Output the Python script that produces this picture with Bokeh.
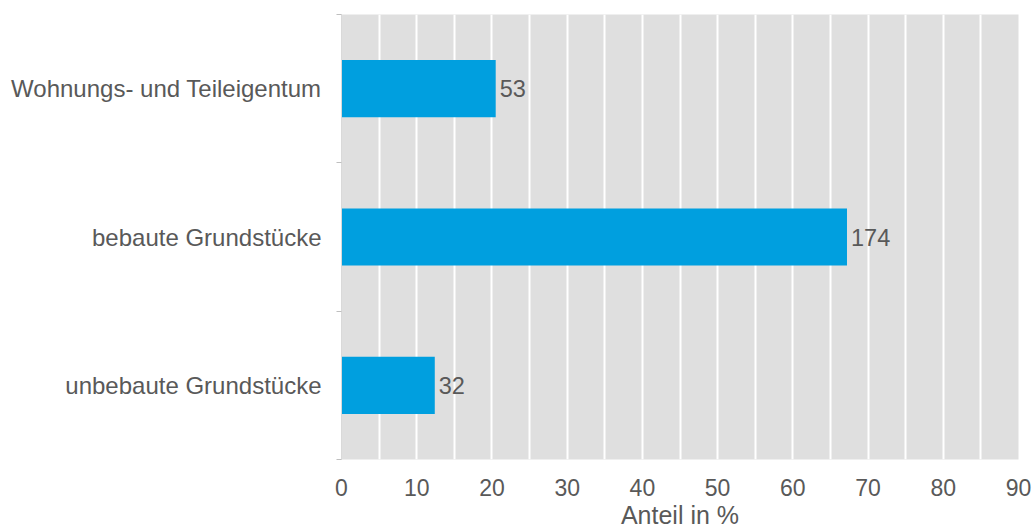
from bokeh.plotting import figure
from bokeh.models import ColumnDataSource, FixedTicker, SingleIntervalTicker, Range1d
from bokeh.embed import file_html
from bokeh.resources import INLINE

# --- data ---
categories = ["unbebaute Grundstücke", "bebaute Grundstücke", "Wohnungs- und Teileigentum"]
anzahl = [32, 174, 53]            # count labels shown next to bars
anteil = [12.4, 67.2, 20.5]       # bar length, share in %
x_ticks = [0, 10, 20, 30, 40, 50, 60, 70, 80, 90]

FONT = "Liberation Sans"
TXT = "#595959"
BAR = "#009FDF"

pos = [i + 0.5 for i in range(len(categories))]
src = ColumnDataSource(dict(y=pos, right=anteil, lab=[str(v) for v in anzahl]))

p = figure(frame_width=677, frame_height=445,
           x_range=Range1d(0, 90), y_range=Range1d(0, len(categories)),
           output_backend="svg", toolbar_location=None,
           min_border_left=341, min_border_right=14, min_border_top=14, min_border_bottom=10)

p.background_fill_color = "#DFDFDF"
p.border_fill_color = "white"
p.outline_line_color = None

p.hbar(y="y", left=0, right="right", height=0.385, source=src,
       fill_color=BAR, line_color=None)
p.text(x="right", y="y", text="lab", source=src, x_offset=4,
       text_align="left", text_baseline="middle",
       text_font={"value": FONT}, text_font_size="23.5px", text_color=TXT)

# grid
p.xgrid.ticker = SingleIntervalTicker(interval=5)
p.xgrid.grid_line_color = "white"
p.xgrid.grid_line_width = 2
p.ygrid.grid_line_color = None

# x axis
xa = p.xaxis[0]
xa.ticker = FixedTicker(ticks=x_ticks)
xa.axis_line_color = None
xa.major_tick_line_color = None
xa.minor_tick_line_color = None
xa.major_label_text_font = FONT
xa.major_label_text_font_size = "23px"
xa.major_label_text_color = TXT
xa.major_label_standoff = 13
xa.axis_label = "Anteil in %"
xa.axis_label_text_font = FONT
xa.axis_label_text_font_size = "25px"
xa.axis_label_text_font_style = "normal"
xa.axis_label_text_color = TXT
xa.axis_label_standoff = 2

# y axis
ya = p.yaxis[0]
ya.ticker = FixedTicker(ticks=pos, minor_ticks=[0, 1, 2, 3])
ya.major_label_overrides = {pv: c for pv, c in zip(pos, categories)}
ya.major_tick_line_color = None
ya.major_tick_out = 0
ya.minor_tick_line_color = "#BFBFBF"
ya.minor_tick_out = 5
ya.minor_tick_in = 0
ya.axis_line_color = "#D9D9D9"
ya.major_label_text_font = FONT
ya.major_label_text_font_size = "24px"
ya.major_label_text_color = TXT
ya.major_label_standoff = 15

open("out.html", "w").write(file_html(p, INLINE))
